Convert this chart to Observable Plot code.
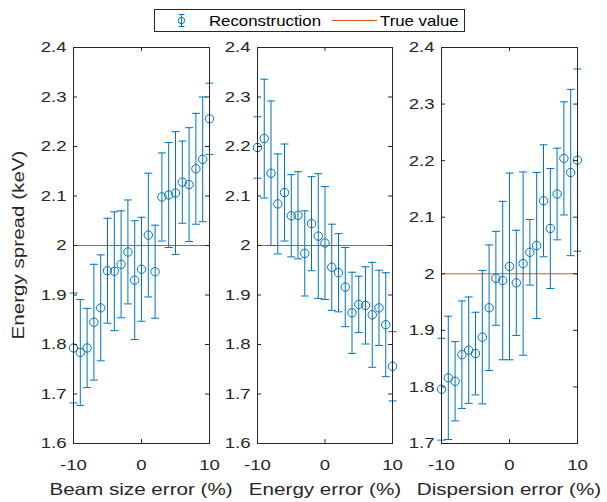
<!DOCTYPE html>
<html><head><meta charset="utf-8">
<script src="https://cdn.jsdelivr.net/npm/d3@7"></script>
<script src="https://cdn.jsdelivr.net/npm/@observablehq/plot@0.6"></script>
<style>
body{margin:0;background:#fff;}
#chart{position:relative;width:607px;height:502px;font-family:"Liberation Sans",Arial,Helvetica,sans-serif;color:#262626;background:#fff;overflow:hidden;}
.panel{position:absolute;top:0;}
#overlay{position:absolute;left:0;top:0;pointer-events:none;}
</style></head><body><div id="chart"></div>
<script>
// ---- data ----
const errorPct = [-10,-9,-8,-7,-6,-5,-4,-3,-2,-1,0,1,2,3,4,5,6,7,8,9,10];
const xTicks = [-10, 0, 10];
const yTicksMain = [1.6,1.7,1.8,1.9,2,2.1,2.2,2.3,2.4];
const yTicksDisp = [1.7,1.8,1.9,2,2.1,2.2,2.3,2.4];
const trueValue = [2];

const beamMean = [1.793,1.784,1.793,1.845,1.874,1.949,1.948,1.962,1.987,1.930,1.952,2.021,1.947,2.098,2.102,2.106,2.128,2.123,2.155,2.174,2.256];
const beamErr  = [0.111,0.107,0.080,0.117,0.107,0.106,0.120,0.108,0.105,0.120,0.105,0.125,0.094,0.089,0.106,0.124,0.083,0.115,0.112,0.126,0.072];

const energyMean = [2.198,2.216,2.146,2.084,2.107,2.060,2.061,1.984,2.044,2.019,2.005,1.956,1.945,1.916,1.864,1.881,1.879,1.860,1.874,1.840,1.756];
const energyErr  = [0.062,0.120,0.146,0.101,0.098,0.083,0.088,0.086,0.095,0.126,0.114,0.087,0.079,0.080,0.082,0.057,0.078,0.106,0.076,0.105,0.070];

const dispMean = [1.796,1.816,1.810,1.857,1.865,1.859,1.888,1.940,1.992,1.988,2.013,1.984,2.018,2.038,2.050,2.129,2.080,2.141,2.204,2.179,2.201];
const dispErr  = [0.090,0.109,0.070,0.095,0.094,0.073,0.118,0.111,0.083,0.140,0.165,0.093,0.162,0.058,0.129,0.099,0.106,0.081,0.100,0.147,0.161];

const xLabels = ["Beam size error (%)", "Energy error (%)", "Dispersion error (%)"];
const yLabel = "Energy spread (keV)";
const legendLabels = ["Reconstruction", "True value"];

// ---- styles ----
const BLUE = "#0072BD", ORANGE = "#D95319", AXIS = "#262626";
const FONT = '"Liberation Sans", Arial, Helvetica, sans-serif';
const STRETCH = 1.2;

const capSymbol = {draw(ctx) { ctx.moveTo(-4, 0); ctx.lineTo(4, 0); }};

function stretchText(svg, s) {
  svg.querySelectorAll("text").forEach(t => {
    const tr = t.getAttribute("transform") || "";
    t.setAttribute("transform", tr + ` scale(${s},1)`);
  });
}

function panel({left, width, marginLeft, marginRight, yDomain, yTicks, mean, err}) {
  const rows = errorPct.map((x, i) => ({x, mean: mean[i], err: err[i]}));
  const height = 480, marginTop = 47, marginBottom = 37;
  const fw = width - marginLeft - marginRight, fh = height - marginTop - marginBottom;
  const tk = 4;
  const svg = Plot.plot({
    width, height, marginLeft, marginRight, marginTop, marginBottom,
    style: {background: "transparent", overflow: "visible", fontFamily: FONT, fontSize: "15.5px", color: AXIS},
    x: {domain: [-10, 10]},
    y: {domain: yDomain},
    marks: [
      Plot.ruleY(trueValue, {y: d => d, stroke: ORANGE, strokeWidth: 1}),
      Plot.ruleX(rows, {x: "x", y1: d => d.mean - d.err, y2: d => d.mean + d.err, stroke: BLUE, strokeWidth: 1}),
      Plot.dot(rows, {x: "x", y: d => d.mean + d.err, symbol: capSymbol, stroke: BLUE, fill: "none", strokeWidth: 1}),
      Plot.dot(rows, {x: "x", y: d => d.mean - d.err, symbol: capSymbol, stroke: BLUE, fill: "none", strokeWidth: 1}),
      Plot.dot(rows, {x: "x", y: "mean", r: 4.2, stroke: BLUE, fill: "none", strokeWidth: 1}),
      Plot.tickX(xTicks, {x: d => d, insetTop: fh - tk, stroke: AXIS}),
      Plot.tickX(xTicks, {x: d => d, insetBottom: fh - tk, stroke: AXIS}),
      Plot.tickY(yTicks, {y: d => d, insetRight: fw - tk, stroke: AXIS}),
      Plot.tickY(yTicks, {y: d => d, insetLeft: fw - tk, stroke: AXIS}),
      Plot.frame({stroke: AXIS, strokeWidth: 1}),
      Plot.axisX({ticks: xTicks, tickSize: 0, tickPadding: 15, tickFormat: d => String(d), label: null}),
      Plot.axisY({ticks: yTicks, tickSize: 0, tickPadding: 7, tickFormat: d => String(d), label: null})
    ]
  });
  stretchText(svg, STRETCH);
  const div = document.createElement("div");
  div.className = "panel";
  div.style.left = left + "px";
  div.appendChild(svg);
  document.getElementById("chart").appendChild(div);
}

panel({left: 0, width: 215, marginLeft: 73, marginRight: 6, yDomain: [1.6, 2.4], yTicks: yTicksMain, mean: beamMean, err: beamErr});
panel({left: 215, width: 185, marginLeft: 42, marginRight: 8, yDomain: [1.6, 2.4], yTicks: yTicksMain, mean: energyMean, err: energyErr});
panel({left: 400, width: 207, marginLeft: 41, marginRight: 30, yDomain: [1.7, 2.4], yTicks: yTicksDisp, mean: dispMean, err: dispErr});

// ---- overlay: axis titles and legend ----
const NS = "http://www.w3.org/2000/svg";
const ov = document.createElementNS(NS, "svg");
ov.setAttribute("id", "overlay");
ov.setAttribute("width", 607); ov.setAttribute("height", 502);
ov.setAttribute("font-family", FONT);
function el(name, attrs, text) {
  const e = document.createElementNS(NS, name);
  for (const k in attrs) e.setAttribute(k, attrs[k]);
  if (text != null) e.textContent = text;
  ov.appendChild(e);
  return e;
}
const xCenters = [141, 325, 509];
xLabels.forEach((t, i) => el("text", {transform: `translate(${xCenters[i]},495) scale(1.25,1)`, "text-anchor": "middle", "font-size": 16.5, fill: AXIS}, t));
el("text", {transform: `translate(24,245) rotate(-90) scale(1.25,1)`, "text-anchor": "middle", "font-size": 16.5, fill: AXIS}, yLabel);

// legend
el("rect", {x: 154.5, y: 9.5, width: 310, height: 22, fill: "#fff", stroke: AXIS, "stroke-width": 1});
const ix = 181.5, iy = 20.5;
el("line", {x1: ix, x2: ix, y1: iy - 6, y2: iy + 6, stroke: BLUE});
el("line", {x1: ix - 3, x2: ix + 3, y1: iy - 6, y2: iy - 6, stroke: BLUE});
el("line", {x1: ix - 3, x2: ix + 3, y1: iy + 6, y2: iy + 6, stroke: BLUE});
el("circle", {cx: ix, cy: iy, r: 3.2, fill: "none", stroke: BLUE});
el("text", {transform: `translate(209,25.5) scale(1.2,1)`, "font-size": 14, fill: "#000"}, legendLabels[0]);
el("line", {x1: 332, x2: 377, y1: 20.5, y2: 20.5, stroke: ORANGE});
el("text", {transform: `translate(380,25.5) scale(1.2,1)`, "font-size": 14, fill: "#000"}, legendLabels[1]);
document.getElementById("chart").appendChild(ov);
</script>
</body></html>
